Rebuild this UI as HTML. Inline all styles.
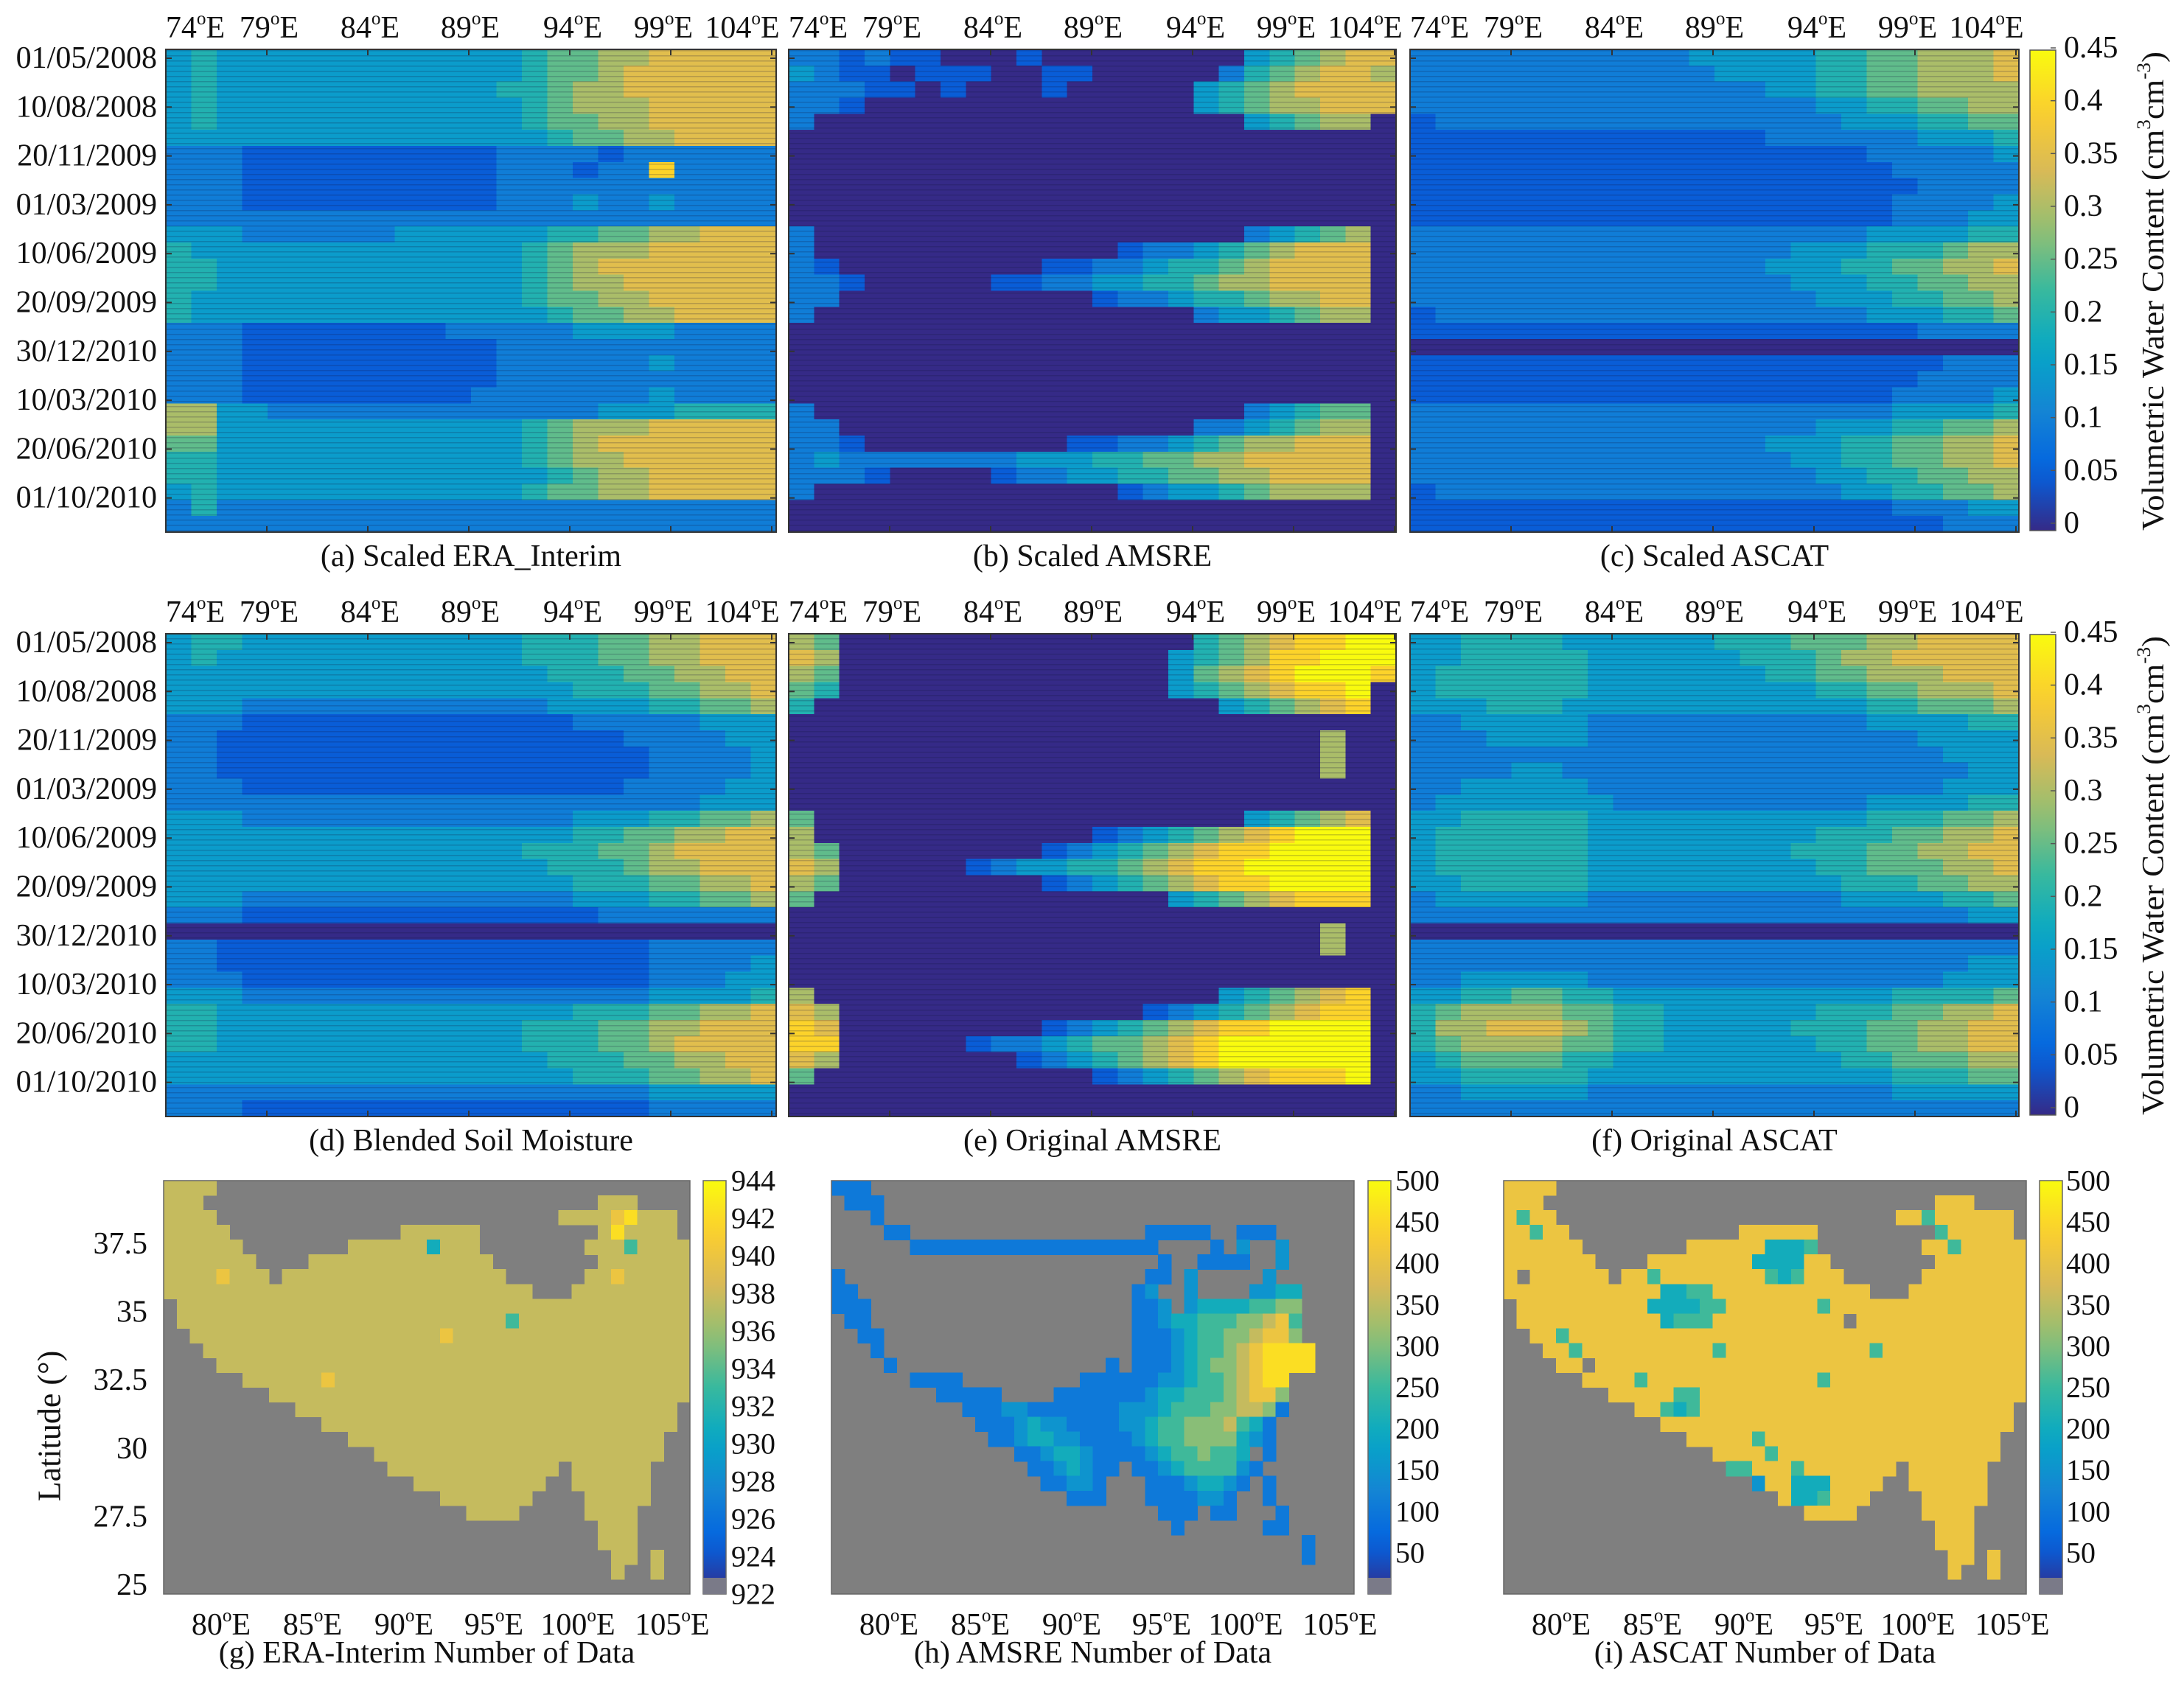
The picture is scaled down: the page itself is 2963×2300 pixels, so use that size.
<!DOCTYPE html>
<html><head><meta charset="utf-8"><style>
html,body{margin:0;padding:0;background:#fff;}
svg{display:block;font-family:"Liberation Serif",serif;}
</style></head><body>
<svg id="fig" xmlns="http://www.w3.org/2000/svg" width="2963" height="2300" viewBox="0 0 2963 2300">
<rect x="0" y="0" width="2963" height="2300" fill="#fff"/>
</svg>
<script>
// ---------- DATA ----------
// Soil moisture levels 0..9 (each step = 0.05 cm3/cm3), rows = time, cols = longitude 74E..104E
const panelA = [
"343333333333334556677777","343333333333334556777777","343333333333344566777777","343333333333334566677777","343333333333334556677777",
"333333333333333455667777","222111111111122221222222","222111111111122212282222","222111111111122222222222","222111111111122232232222",
"222222222222222222222222","333222222333333445566777","433333333333334566677777","443333333333334567777777","443333333333334566777777",
"433333333333334556677777","433333333333333455667777","222111111112222233332222","222111111111122222222222","222111111111122222232222",
"222111111111122222222222","222111111111222222232222","663322222222222223334444","663333333333334566677777","553333333333334567777777",
"443333333333334566777777","443333333333333456677777","343333333333334556677777","242222222222222222222222","222222222222222222222222"];
const panelB = [
"221211000100000000345677","321101110011000002456776","222110100010000034567777","221000000000000034566777","200000000000000000345660",
"000000000000000000000000","000000000000000000000000","000000000000000000000000","000000000000000000000000","000000000000000000000000",
"000000000000000000000000","200000000000000000234560","200000000000012234567770","210000000011223445677770","221000001122334456677770",
"220000000000122344566770","200000000000000023345660","000000000000000000000000","000000000000000000000000","000000000000000000000000",
"000000000000000000000000","000000000000000000000000","200000000000000000234550","220000000000000022345660","221000000001122345667770",
"232222222333445566777770","222100001223344556677770","200000000000012334566660","000000000000000000000000","000000000000000000000000"];
const panelC = [
"222222222223333344556667","222222222222333344556667","222222222222223344556666","222222222222222233445566","122222222222222223334455",
"111111111111112222223334","111111111111111111222223","111111111111111111122222","111111111111111111112222","111111111111111111122223",
"111111111111111111122233","222222222222222222333344","222222222222222333444566","222222222222223334455667","222222222222222333445566",
"222222222222222233344556","122222222222222222333445","111111111111111111112222","000000000000000000000000","111111111111111111111222",
"111111111111111111112222","111111111111111111122223","222222222222222222233334","222222222222222233344556","222222222222223334455667",
"222222222222222334455667","222222222222222233445566","122222222222222223344556","111111111111111111122233","111111111111111111111222"];
const panelD = [
"344333333333334445566777","343333333333334445566777","333333333333333444556677","333333333333333344455667","333222222222222333344556",
"222111111111111122222333","221111111111111111222233","221111111111111111122223","221111111111111111122223","222111111111111111222233",
"222222222222222222222333","333222222222222233344556","333333333333333344556677","333333333333334445567777","333333333333333444566777",
"333333333333333344455667","333222222222222233344556","222111111111111112222222","000000000000000000000000","221111111111111111122222",
"221111111111111111122223","222111111111111111122233","333222222222222222233334","443333333333333344455667","443333333333334445566777",
"443333333333334445567777","333333333333333444556677","333333333333333344455667","222222222222222222233333","222111111111111111122222"];
const panelE = [
"650000000000000045678899","760000000000000345688999","650000000000000356789998","540000000000000345678890","400000000000000003456780",
"000000000000000000000000","000000000000000000000600","000000000000000000000600","000000000000000000000600","000000000000000000000000",
"000000000000000000000000","500000000000000000345670","600000000000123456789990","650000000012345678899990","760000012334456788999990",
"650000000012345678899990","500000000000000345678880","000000000000000000000000","000000000000000000000600","000000000000000000000600",
"000000000000000000000000","000000000000000000000000","600000000000000003456780","760000000000001234567880","870000000012345678899990",
"880000012234556789999990","760000000123456789999990","500000000000123456788890","000000000000000000000000","000000000000000000000000"];
const panelF = [
"334444333333444555667777","334444433333344456677777","344444433333334455666777","344444433333333344556667","333444333333333333445556",
"223333322222222222333344","222333322222222222223333","222222222222222222222333","222233222222222222222233","223333322222222222222333",
"233333332222222222333344","334444433333333333444556","344444433333333344455667","344444433333333444556677","344444433333333344555667",
"334444433333333334445566","233333322222222223333445","222222222222222222222233","000000000000000000000000","222222222222222222222222",
"222222222222222222222233","223333322222222222222333","334455443333333333344445","456666554433333344455667","466777654433333444556677",
"456666554433333344556677","345555443333333334455566","334444433333333333344455","223333322222222222233333","222222222222222222222222"];

const dateLabels = ["01/05/2008","10/08/2008","20/11/2009","01/03/2009","10/06/2009","20/09/2009","30/12/2010","10/03/2010","20/06/2010","01/10/2010"];
const lonLabels = ["74","79","84","89","94","99","104"];
const smTicks = ["0.45","0.4","0.35","0.3","0.25","0.2","0.15","0.1","0.05","0"];
const smTickValues = [0.45,0.4,0.35,0.3,0.25,0.2,0.15,0.1,0.05,0];

// Maps: plateau land mask as [startCol,endCol] runs per row (40 cols x 28 rows)
const plateauRuns = [
[[0,3]],[[0,2],[33,35]],[[0,3],[30,38]],[[0,4],[18,23],[33,38]],[[0,5],[14,23],[32,39]],
[[0,6],[11,24],[33,39]],[[0,7],[9,25],[32,39]],[[0,27],[31,39]],[[1,39]],[[1,39]],
[[2,39]],[[3,39]],[[4,39]],[[6,39]],[[8,39]],[[10,38]],[[12,38]],[[14,37]],[[16,37]],
[[17,29],[31,36]],[[19,28],[31,36]],[[21,27],[32,36]],[[23,26],[32,35]],[[33,35]],[[33,35]],[[34,35],[37,37]],[[34,34],[37,37]],[]];
// g: ERA-Interim counts levels (0..9 scaled over 922..944)
const gLevels = [
"7777777777777777777777777777777777777777","7777777777777777777777777777777777777777","7777777777777777777777777777777777897777","7777777777777777777777777777777777977777",
"7777777777777777777747777777777777757777","7777777777777777777777777777777777777777","7777877777777777777777777777777777877777","7777777777777777777777777777777777777777",
"7777777777777777777777777777777777777777","7777777777777777777777777757777777777777","7777777777777777777778777777777777777777","7777777777777777777777777777777777777777",
"7777777777777777777777777777777777777777","7777777777778777777777777777777777777777","7777777777777777777777777777777777777777","7777777777777777777777777777777777777777",
"7777777777777777777777777777777777777777","7777777777777777777777777777777777777777","7777777777777777777777777777777777777777","7777777777777777777777777777777777777777",
"7777777777777777777777777777777777777777","7777777777777777777777777777777777777777","7777777777777777777777777777777777777777","7777777777777777777777777777777777777777",
"7777777777777777777777777777777777777777","7777777777777777777777777777777777777777","7777777777777777777777777777777777777777","7777777777777777777777777777777777777777"];
// h: AMSRE counts levels ('.' = no data), 0..9 over 0..500
const hLevels = [
"222",".222","...2","....22..................22222..222","......2222222222222222222....2.3..3",
".........................2..2222..3","2.......................22.3.....3","22.....................23..3....3344","222....................223.344445566",".22....................2234455566785",
"..22...................2223455667886","...2...................22234556789999","....2................2.22234566789999","......2222.........2222223345567899","........22222....222222234455567886",
"..........2223322222223334555667762","...........22234332222334556667542","............2234433222234556666432","..............223443222234556554.2","...............2234322.2234555532",
"................22332...22234432.2","..................222...2222332..2",".........................222.22...2","..........................2......22","....................................2",
"....................................2","",""];
// i: ASCAT counts levels ('.' = hole)
const iLevels = [
"8888888888888888888888888888888888888888","8888888888888888888888888888888888888888","8588888888888888888888888888888858888888","8858888888888888888888888888888885888888",
"8888888888888888888844458888888888588888","8888888888888888888444488888888888888888","8.88888888858888888854588888888888888888","8888888888884455888888888888888888888888",
"8888888888844445588888885888888888888888","88888888888845558888888888.8888888888888","8.88588888888888888888888888888888888888","8888858888888888588888888888588888888888",
"888888.888888888888888888888888888888888","8888888888588888888888885888888888888888","8888888888888558888888888888888888888888","8888888888885458888888888888888888888888",
"8888888888888888888888888888888888888888","8888888888888888888588888888888888888888","8888888888888888888858888888888888888888","8888888888888888555888588888888888888888",
"8888888888888888333388444888888888888888","8888888888888888888888445888888888888888","8888888888888888888888888888888888888888","8888888888888888888888888888888888888888",
"8888888888888888888888888888888888888888","8888888888888888888888888888888888888888","8888888888888888888888888888888888888888","8888888888888888888888888888888888888888"];

const gTicks = ["944","942","940","938","936","934","932","930","928","926","924","922"];
const gTickValues = [944,942,940,938,936,934,932,930,928,926,924,922];
const cntTicks = ["500","450","400","350","300","250","200","150","100","50"];
const cntTickValues = [500,450,400,350,300,250,200,150,100,50];
const mapLonLabels = ["80","85","90","95","100","105"];
const latLabels = ["37.5","35","32.5","30","27.5","25"];
const latValues = [37.5,35,32.5,30,27.5,25];

// ---------- HELPERS ----------
const NS = "http://www.w3.org/2000/svg";
const svg = document.getElementById('fig');
const parula = [[0,[53,42,135]],[0.125,[3,99,225]],[0.25,[20,133,212]],[0.375,[6,167,198]],[0.5,[56,185,158]],[0.625,[146,191,115]],[0.75,[217,186,86]],[0.875,[252,206,46]],[1,[249,251,14]]];
function cmap(t){
  t=Math.max(0,Math.min(1,t));
  for(let i=1;i<parula.length;i++){
    if(t<=parula[i][0]){
      const a=parula[i-1],b=parula[i],f=(t-a[0])/(b[0]-a[0]);
      const c=a[1].map((v,k)=>Math.round(v+(b[1][k]-v)*f));
      return 'rgb('+c.join(',')+')';
    }
  }
  return 'rgb(249,251,14)';
}
function mk(tag,attrs,parent){
  const e=document.createElementNS(NS,tag);
  for(const k in attrs) e.setAttribute(k,attrs[k]);
  (parent||svg).appendChild(e);
  return e;
}
function txt(x,y,s,size,anchor,parent){
  const t=mk('text',{x:x,y:y,'font-size':size,'text-anchor':anchor||'middle','dominant-baseline':'central',fill:'#111'},parent);
  t.textContent=s;
  return t;
}
function lonText(x,y,num,size,parent){
  const t=mk('text',{x:x,y:y,'font-size':size,'text-anchor':'middle','dominant-baseline':'central',fill:'#111'},parent);
  const a=document.createElementNS(NS,'tspan');a.textContent=num;t.appendChild(a);
  const b=document.createElementNS(NS,'tspan');b.setAttribute('dy','-13');b.setAttribute('font-size',size*0.6);b.textContent='o';t.appendChild(b);
  const c=document.createElementNS(NS,'tspan');c.setAttribute('dy','13');c.textContent='E';t.appendChild(c);
  return t;
}

// defs: stripes and gradients
const defs=mk('defs',{});
const pat=mk('pattern',{id:'stripes',patternUnits:'userSpaceOnUse',width:10,height:7},defs);
mk('rect',{x:0,y:5,width:10,height:1.5,fill:'rgba(20,20,60,0.22)'},pat);
const grad=mk('linearGradient',{id:'parulaGrad',x1:0,y1:1,x2:0,y2:0},defs);
for(let i=0;i<=20;i++){mk('stop',{offset:(i/20),'stop-color':cmap(i/20)},grad);}

// ---------- HEATMAP PANELS ----------
const COLX=[225,1070,1913], PW=[828,824,826];
const ROWY=[67,860], PH=655;
const panels=[
 {data:panelA,col:0,row:0,cap:'(a) Scaled ERA_Interim',name:'panel-a-scaled-era-interim',stripe:true},
 {data:panelB,col:1,row:0,cap:'(b) Scaled AMSRE',name:'panel-b-scaled-amsre',stripe:true},
 {data:panelC,col:2,row:0,cap:'(c) Scaled ASCAT',name:'panel-c-scaled-ascat',stripe:true},
 {data:panelD,col:0,row:1,cap:'(d) Blended Soil Moisture',name:'panel-d-blended-soil-moisture',stripe:true},
 {data:panelE,col:1,row:1,cap:'(e) Original AMSRE',name:'panel-e-original-amsre',stripe:true},
 {data:panelF,col:2,row:1,cap:'(f) Original ASCAT',name:'panel-f-original-ascat',stripe:true}
];
const lonLabelRel=[40,140,277,413,552,675,782];
const lonTickRel=[0,137,274,411,548,685,822];
panels.forEach(p=>{
  const x0=COLX[p.col], y0=ROWY[p.row], w=PW[p.col], h=PH;
  const g=mk('g',{});
  
  
  const nr=p.data.length, nc=p.data[0].length;
  const xs=c=>x0+c*w/nc, ys=r=>y0+r*h/nr;
  for(let r=0;r<nr;r++){for(let c=0;c<nc;c++){
    const v=parseInt(p.data[r][c])*0.05;
    const cell=mk('rect',{x:xs(c).toFixed(2),y:ys(r).toFixed(2),width:(w/nc+0.6).toFixed(2),height:(h/nr+0.6).toFixed(2),fill:cmap(v/0.45),'shape-rendering':'crispEdges'},g);
    
    
  }}
  if(p.stripe){
    mk('rect',{x:x0,y:y0,width:w,height:h,fill:'url(#stripes)'},g);
  }
  const fr=mk('rect',{x:x0,y:y0,width:w,height:h,fill:'none',stroke:'#333','stroke-width':2},g);
  
  
  lonLabels.forEach((l,i)=>{
    const lt=lonText(x0+lonLabelRel[i],y0-29,l,42,g);
    
    
    const tx=x0+lonTickRel[i];
    mk('line',{x1:tx,y1:y0,x2:tx,y2:y0+8,stroke:'#333','stroke-width':2},g);
    mk('line',{x1:tx,y1:y0+h,x2:tx,y2:y0+h-8,stroke:'#333','stroke-width':2},g);
  });
  dateLabels.forEach((d,i)=>{
    const ty=y0+12+i*66.3;
    mk('line',{x1:x0,y1:ty,x2:x0+8,y2:ty,stroke:'#333','stroke-width':2},g);
    mk('line',{x1:x0+w,y1:ty,x2:x0+w-8,y2:ty,stroke:'#333','stroke-width':2},g);
    if(p.col===0){
      const dl=txt(213,ty,d,42,'end',g);
      
      
    }
  });
  const cap=txt(x0+w/2,y0+h+33,p.cap,42,'middle',g);
  
  
});

// ---------- SOIL MOISTURE COLORBARS ----------
[67,860].forEach((y0,k)=>{
  const g=mk('g',{});
  
  
  mk('rect',{x:2754,y:y0+1,width:35,height:652,fill:'url(#parulaGrad)',stroke:'#555','stroke-width':1.5},g);
  const vy=v=>y0+643-v/0.45*645;
  smTickValues.forEach((v,i)=>{
    const t=txt(2800,vy(v),smTicks[i],42,'start',g);
    
    
    mk('line',{x1:2789,y1:vy(v),x2:2782,y2:vy(v),stroke:'#555','stroke-width':1.5},g);
  });
  const tt=mk('text',{x:0,y:0,'font-size':42,'text-anchor':'middle','dominant-baseline':'central',fill:'#111',transform:'translate(2922,'+(y0+328)+') rotate(-90)',textLength:650,lengthAdjust:'spacingAndGlyphs'},g);
  
  
  const s1=document.createElementNS(NS,'tspan');s1.textContent='Volumetric Water Content (cm';tt.appendChild(s1);
  const s2=document.createElementNS(NS,'tspan');s2.setAttribute('dy','-14');s2.setAttribute('font-size','26');s2.textContent='3';tt.appendChild(s2);
  const s3=document.createElementNS(NS,'tspan');s3.setAttribute('dy','14');s3.textContent='cm';tt.appendChild(s3);
  const s4=document.createElementNS(NS,'tspan');s4.setAttribute('dy','-14');s4.setAttribute('font-size','26');s4.textContent='-3';tt.appendChild(s4);
  const s5=document.createElementNS(NS,'tspan');s5.setAttribute('dy','14');s5.textContent=')';tt.appendChild(s5);
});

// ---------- MAPS ----------
const maps=[
 {x:222,w:714,levels:gLevels,useMask:true,cap:'(g)  ERA-Interim Number of Data',cb:954,cbLab:992,ticks:gTicks,tickVals:gTickValues,vmin:922,vmax:944,name:'map-g-era-interim-count'},
 {x:1128,w:709,levels:hLevels,useMask:false,cap:'(h) AMSRE Number of Data',cb:1856,cbLab:1893,ticks:cntTicks,tickVals:cntTickValues,vmin:0,vmax:500,name:'map-h-amsre-count'},
 {x:2040,w:709,levels:iLevels,useMask:true,cap:'(i) ASCAT Number of Data',cb:2767,cbLab:2803,ticks:cntTicks,tickVals:cntTickValues,vmin:0,vmax:500,name:'map-i-ascat-count'}
];
const MY=1602, MH=561;
const mapLonRel=[78,202,326,448,562,690];
function inMask(r,c){return plateauRuns[r].some(s=>c>=s[0]&&c<=s[1]);}
maps.forEach(m=>{
  const g=mk('g',{});
  
  
  mk('rect',{x:m.x,y:MY,width:m.w,height:MH,fill:'#7f7f7f'},g);
  const nr=28,nc=40, xs=c=>m.x+c*m.w/nc, ys=r=>MY+r*MH/nr;
  for(let r=0;r<nr;r++){for(let c=0;c<nc;c++){
    if(m.useMask && !inMask(r,c)) continue;
    const ch=(m.levels[r]||'')[c];
    if(ch===undefined||ch==='.') continue;
    const cell=mk('rect',{x:xs(c).toFixed(2),y:ys(r).toFixed(2),width:(m.w/nc+0.6).toFixed(2),height:(MH/nr+0.6).toFixed(2),fill:cmap(parseInt(ch)/9.8),'shape-rendering':'crispEdges'},g);
    
    
  }}
  mk('rect',{x:m.x,y:MY,width:m.w,height:MH,fill:'none',stroke:'#666','stroke-width':1.5},g);
  mapLonLabels.forEach((l,i)=>{
    const t=lonText(m.x+mapLonRel[i],2205,l,42,g);
    
    
  });
  const cap=txt(m.x+m.w/2,2243,m.cap,42,'middle',g);
  
  
  mk('rect',{x:m.cb,y:MY,width:31,height:MH,fill:'url(#parulaGrad)',stroke:'#666','stroke-width':1.5},g);
  mk('rect',{x:m.cb,y:MY+MH-22,width:31,height:22,fill:'#7a7a88'},g);
  const vy=v=>MY+(m.vmax-v)/(m.vmax-m.vmin)*MH;
  m.tickVals.forEach((v,i)=>{
    const t=txt(m.cbLab,Math.max(vy(v),MY-6),m.ticks[i],40,'start',g);
    
    
  });
});
const latScale=v=>1688+(37.5-v)*37.04;
latValues.forEach((v,i)=>{
  const t=txt(200,latScale(v),latLabels[i],42,'end');
  
  
});
const latTitle=mk('text',{x:0,y:0,'font-size':44,'text-anchor':'middle','dominant-baseline':'central',fill:'#111',transform:'translate(67,1935) rotate(-90)'});
latTitle.textContent='Latitude  (°)';


</script>
</body></html>
